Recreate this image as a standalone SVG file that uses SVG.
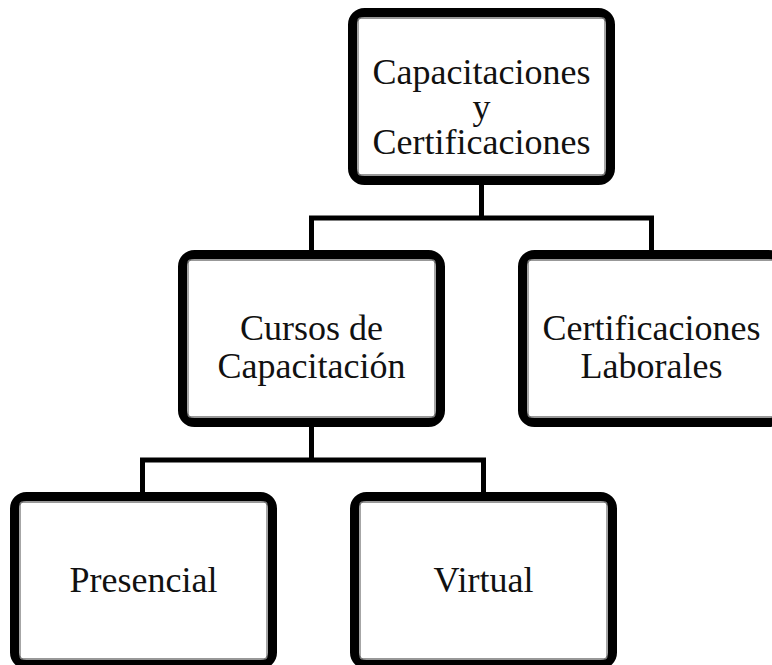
<svg xmlns="http://www.w3.org/2000/svg" width="772" height="665" viewBox="0 0 772 665">
<style>
.frame{fill:#fff;stroke:#000;stroke-width:9}
.inner{fill:none;stroke:#777;stroke-width:1.3}
.lbl{font-family:"Liberation Serif","Times New Roman",serif;font-size:36px;fill:#111;text-anchor:middle}
.conn{fill:none;stroke:#000;stroke-width:5;stroke-linejoin:miter;stroke-linecap:square}
</style>
<rect width="772" height="665" fill="#fff"/>
<g id="connectors">
<path class="conn" d="M481.5 187V218M311.5 248V218H651.5V248"/>
<path class="conn" d="M311.5 429V460M142.5 490V460H483.5V490"/>
</g>
<g id="node-top">
<rect class="frame" x="352.5" y="12.5" width="258" height="168" rx="12"/>
<rect class="inner" x="358" y="18" width="247" height="157" rx="3"/>
<text class="lbl" x="481.5" y="84">Capacitaciones</text>
<text class="lbl" x="481.5" y="119">y</text>
<text class="lbl" x="481.5" y="154">Certificaciones</text>
</g>
<g id="node-cursos">
<rect class="frame" x="182.5" y="254.5" width="258" height="168" rx="12"/>
<rect class="inner" x="188" y="260" width="247" height="157" rx="3"/>
<text class="lbl" x="311.5" y="340">Cursos de</text>
<text class="lbl" x="311.5" y="378">Capacitación</text>
</g>
<g id="node-certificaciones">
<rect class="frame" x="522.5" y="254.5" width="258" height="168" rx="12"/>
<rect class="inner" x="528" y="260" width="247" height="157" rx="3"/>
<text class="lbl" x="651.5" y="340">Certificaciones</text>
<text class="lbl" x="651.5" y="378">Laborales</text>
</g>
<g id="node-presencial">
<rect class="frame" x="14.5" y="496.5" width="258" height="168" rx="12"/>
<rect class="inner" x="20" y="502" width="247" height="157" rx="3"/>
<text class="lbl" x="143.5" y="592">Presencial</text>
</g>
<g id="node-virtual">
<rect class="frame" x="354.5" y="496.5" width="258" height="168" rx="12"/>
<rect class="inner" x="360" y="502" width="247" height="157" rx="3"/>
<text class="lbl" x="483.5" y="592">Virtual</text>
</g>
</svg>
